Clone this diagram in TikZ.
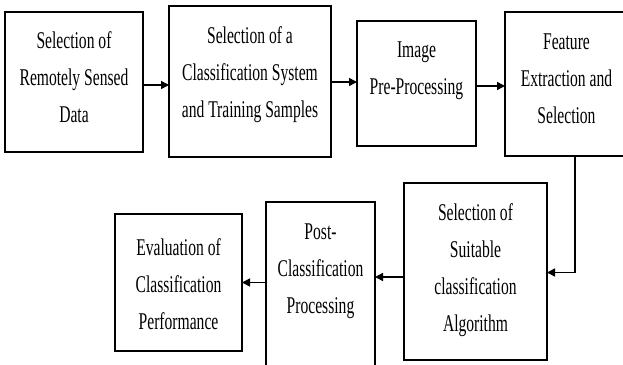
\documentclass[tikz,border=0pt]{standalone}
\usepackage{fontspec}
\setmainfont{Liberation Serif}[FakeStretch=0.65]
\usetikzlibrary{arrows.meta}
\begin{document}
\begin{tikzpicture}[x=1pt,y=-1pt,
  box/.style={draw=black,line width=1.3pt,inner sep=0pt,outer sep=0pt},
  txt/.style={anchor=north,inner sep=0pt,align=center,font=\fontsize{24}{37}\selectfont},
  arr/.style={line width=1.5pt,-{Triangle[length=8pt,width=8pt]}}]
\useasboundingbox (0,0) rectangle (623,364);
\fill[white] (0,0) rectangle (623,364);
\clip (0,0) rectangle (623,364);
% boxes
\node[box,minimum width=138pt,minimum height=140pt] (b1) at (74,82) {};
\node[box,minimum width=162pt,minimum height=151pt] (b2) at (250,81.5) {};
\node[box,minimum width=119pt,minimum height=125pt] (b3) at (416.5,83.5) {};
\node[box,minimum width=123pt,minimum height=144pt] (b4) at (566.5,84) {};
\node[box,minimum width=143pt,minimum height=177pt] (b5) at (475.5,271.5) {};
\node[box,minimum width=109pt,minimum height=188pt] (b6) at (320.5,296) {};
\node[box,minimum width=127pt,minimum height=137pt] (b7) at (178.5,282.5) {};
% texts
\node[txt] (t1) at (74,31.5) {Selection of\\Remotely Sensed\\Data};
\node[txt] (t2) at (250,26.5) {Selection of a\\Classification System\\and Training Samples};
\node[txt] (t3) at (416.5,41.5) {Image\\Pre-Processing};
\node[txt] (t4) at (566.5,33.5) {Feature\\Extraction and\\Selection};
\node[txt] (t5) at (475.5,203.5) {Selection of\\Suitable\\classification\\Algorithm};
\node[txt] (t6) at (320.5,223.5) {Post-\\Classification\\Processing};
\node[txt] (t7) at (178.5,238.5) {Evaluation of\\Classification\\Performance};
% connectors
\path ([yshift=-3pt]b1.east) coordinate (a1);
\draw[arr] (a1) -- (a1 -| b2.west);
\path ([yshift=-0.5pt]b2.east) coordinate (a2);
\draw[arr] (a2) -- (a2 -| b3.west);
\path ([yshift=-2.5pt]b3.east) coordinate (a3);
\draw[arr] (a3) -- (a3 -| b4.west);
\path ([xshift=8.5pt]b4.south) coordinate (a4);
\draw[arr] (a4) |- ([yshift=-1pt]b5.east);
\path ([yshift=-5.5pt]b5.west) coordinate (a5);
\draw[arr] (a5) -- (a5 -| b6.east);
\path (b6.west |- b7.east) coordinate (a6);
\draw[arr] (a6) -- (b7.east);
\end{tikzpicture}
\end{document}
